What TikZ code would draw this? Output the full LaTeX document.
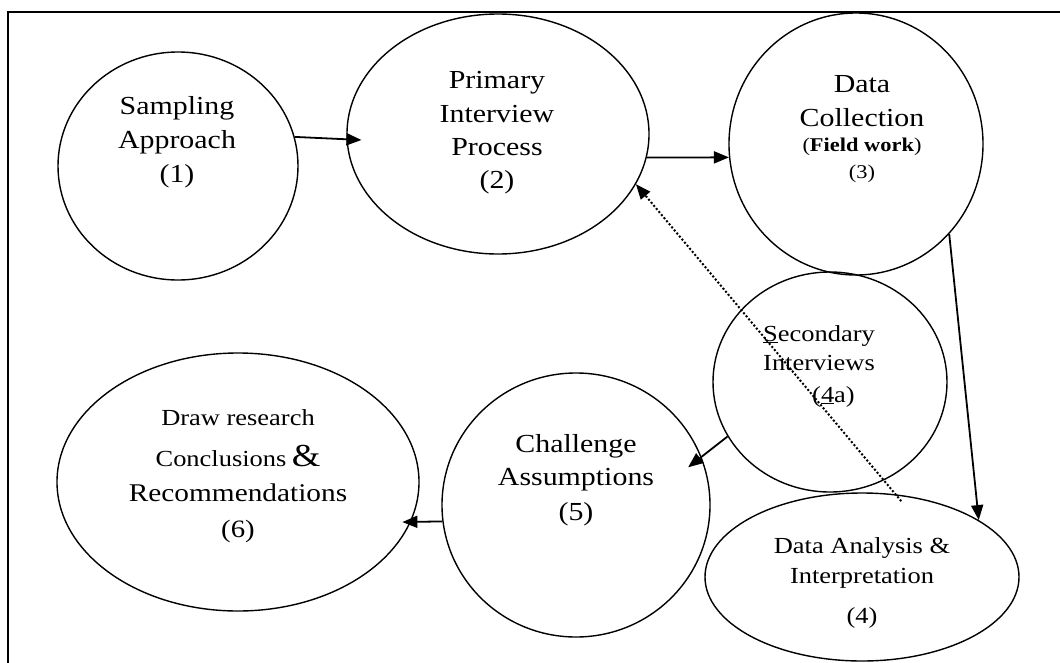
\documentclass[tikz,border=0pt]{standalone}
\usepackage{fontspec}
\setmainfont[FakeStretch=1.15]{Liberation Serif}
\usepackage{tikz}
\usetikzlibrary{shapes.geometric,arrows.meta}

\tikzset{
	stage/.style={draw, ellipse, line width=1.4pt, inner sep=0pt},
	flow/.style={-{Triangle[length=15pt,width=12pt]}, line width=1.8pt},
	back/.style={flow, dash pattern=on 2pt off 2pt, line width=2pt},
	lbl/.style={align=center, inner sep=0pt, anchor=base}
}

\begin{document}
\begin{tikzpicture}[x=1pt,y=-1pt]
	\useasboundingbox (0,0) rectangle (1060,662);
	\clip (0,0) rectangle (1060,662);
	\draw[line width=1.6pt] (8,700) -- (8,12) -- (1100,12);
	
	\def\bigtxt{\fontsize{26}{34}\selectfont}
	\def\midtxt{\fontsize{23}{29}\selectfont}
	\def\smalltxt{\fontsize{19.5}{20}\selectfont}
	
	\node[stage, minimum width=240pt, minimum height=228pt] (samp) at (178,166) {};
	\node[stage, minimum width=302pt, minimum height=240pt] (prim) at (498,134) {};
	\node[stage, minimum width=254pt, minimum height=262pt] (coll) at (856,144) {};
	\node[stage, minimum width=234pt, minimum height=220pt] (sec) at (830,382) {};
	\node[stage, minimum width=314pt, minimum height=168pt] (anal) at (862,577) {};
	\node[stage, minimum width=268pt, minimum height=264pt] (chal) at (576,505) {};
	\node[stage, minimum width=362pt, minimum height=258pt] (concl) at (238,482) {};
	
	% anchor=base sits on the last line
	\node[lbl, font=\bigtxt] (samp-t) at (177,182) {Sampling\\Approach\\(1)};
	\node[lbl, font=\fontsize{26}{33.5}\selectfont] (prim-t) at (497,188) {Primary\\Interview\\Process\\[-1pt](2)};
	\node[lbl, font=\bigtxt] (coll-t) at (862,178) {Data\\Collection\\[-9pt]{\smalltxt(\textbf{Field work})}\\[-7pt]{\smalltxt(3)}};
	\node[align=left, inner sep=0pt, anchor=base west, font=\midtxt] (sec-t) at (763,402) {\underline{S}econdary\\Interviews\\[3pt]\hspace*{49pt}(\underline{4}a)};
	\node[lbl, font=\fontsize{23}{30}\selectfont] (anal-t) at (862,623) {Data Analysis \&\\Interpretation\\[10pt](4)};
	\node[lbl, font=\bigtxt] (chal-t) at (576,520) {Challenge\\[-1pt]Assumptions\\[1pt](5)};
	\node[lbl, font=\fontsize{23}{35.5}\selectfont] (concl-t) at (238,537) {Draw research\\[5.5pt]Conclusions{\fontsize{32}{32}\selectfont\,\&}\\{\fontsize{25.5}{30}\selectfont Recommendations}\\{\fontsize{25}{30}\selectfont(6)}};
	
	\draw[flow, shorten >=-15pt] (samp.14) -- (prim.182);
	\draw[flow] (prim.351) -- (coll.186);
	\draw[flow] (coll.316) -- (anal.26);
	\draw[flow, shorten >=-17pt] (sec.208) -- (chal.21);
	\draw[flow, shorten >=-8.5pt] (chal.187) -- (concl.347);
	\draw[back, shorten <=-9pt] (anal.68) -- (prim.340);
\end{tikzpicture}
\end{document}
